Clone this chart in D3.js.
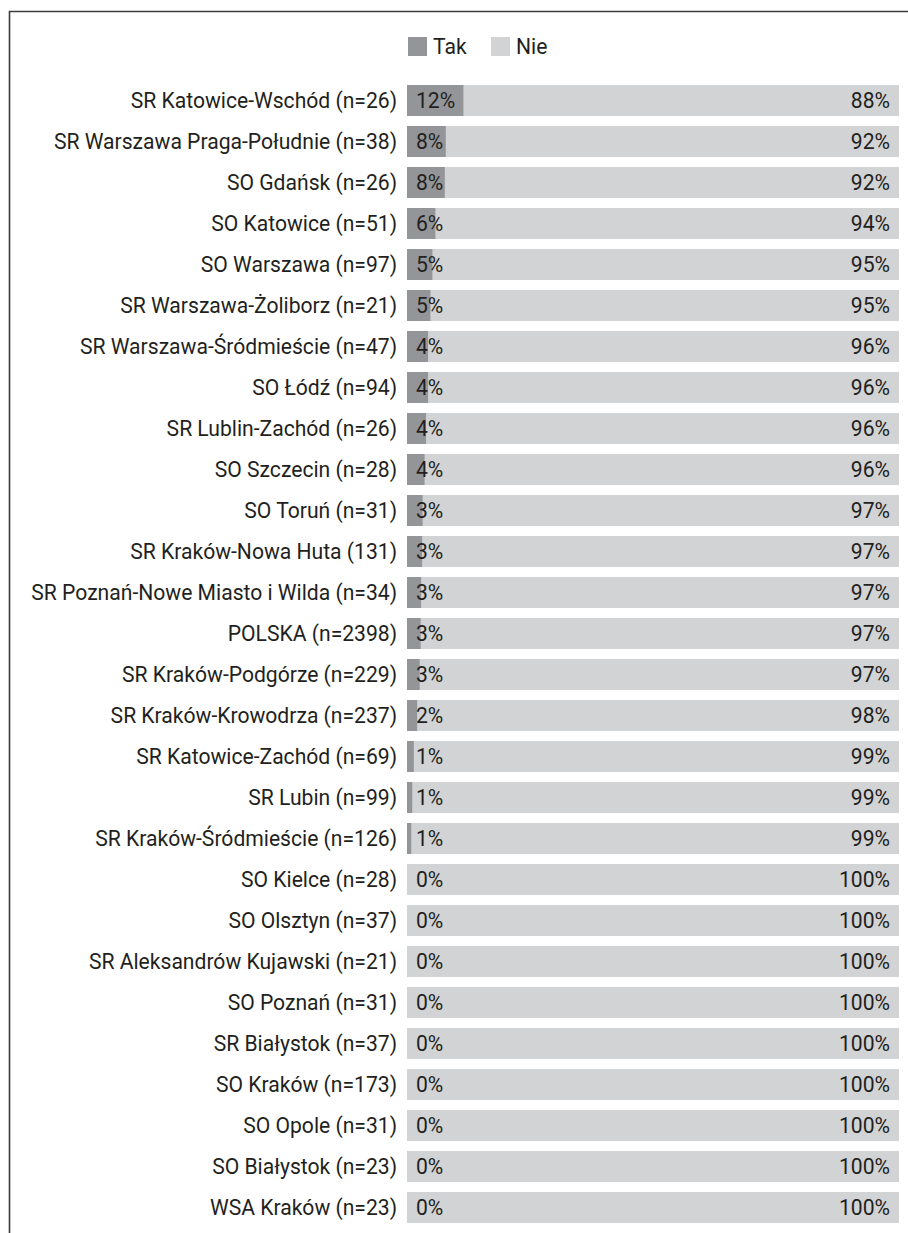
<!DOCTYPE html>
<html lang="pl">
  <head>
    <meta charset="UTF-8" />
    <title>Tak / Nie</title>
    <script src="https://d3js.org/d3.v7.min.js"></script>
    <style>
      body {
        margin: 0;
        background: #fff;
      }
      svg {
        display: block;
        font-family: Roboto, 'Liberation Sans', sans-serif;
      }
    </style>
  </head>
  <body>
    <svg width="908" height="1233"></svg>

    <script>
      const categories = [
        'SR Katowice-Wschód (n=26)',
        'SR Warszawa Praga-Południe (n=38)',
        'SO Gdańsk (n=26)',
        'SO Katowice (n=51)',
        'SO Warszawa (n=97)',
        'SR Warszawa-Żoliborz (n=21)',
        'SR Warszawa-Śródmieście (n=47)',
        'SO Łódź (n=94)',
        'SR Lublin-Zachód (n=26)',
        'SO Szczecin (n=28)',
        'SO Toruń (n=31)',
        'SR Kraków-Nowa Huta (131)',
        'SR Poznań-Nowe Miasto i Wilda (n=34)',
        'POLSKA (n=2398)',
        'SR Kraków-Podgórze (n=229)',
        'SR Kraków-Krowodrza (n=237)',
        'SR Katowice-Zachód (n=69)',
        'SR Lubin (n=99)',
        'SR Kraków-Śródmieście (n=126)',
        'SO Kielce (n=28)',
        'SO Olsztyn (n=37)',
        'SR Aleksandrów Kujawski (n=21)',
        'SO Poznań (n=31)',
        'SR Białystok (n=37)',
        'SO Kraków (n=173)',
        'SO Opole (n=31)',
        'SO Białystok (n=23)',
        'WSA Kraków (n=23)',
      ];

      // share answering "Tak" (%)
      const tak = [
        11.5, 7.9, 7.7, 5.8, 5.2, 4.8, 4.3, 4.3, 3.9, 3.6, 3.2, 3.1, 2.9, 2.8,
        2.6, 2.1, 1.4, 1.1, 0.9, 0, 0, 0, 0, 0, 0, 0, 0, 0,
      ];
      const nie = tak.map((v) => 100 - v);

      const takLabels = tak.map((v) => Math.round(v) + '%');
      const nieLabels = tak.map((v) => 100 - Math.round(v) + '%');

      const seriesNames = ['Tak', 'Nie'];
      const colors = ['#939598', '#d1d3d4'];
      const textColor = '#231f20';

      const fontSize = 22;
      const squeeze = 0.96; // slight horizontal scale to match the narrow face

      const svg = d3.select('svg');

      // frame (top and left edges visible)
      svg
        .append('path')
        .attr('d', 'M9.5,1233V11.5H908')
        .attr('fill', 'none')
        .attr('stroke', '#3c3c3c')
        .attr('stroke-width', 1.6);

      const x = d3.scaleLinear().domain([0, 100]).range([407, 899]);

      const y = d3
        .scaleBand()
        .domain(categories)
        .range([80, 80 + categories.length * 41])
        .paddingInner(10 / 41)
        .paddingOuter(5 / 41);

      const rows = categories.map((c, i) => ({
        name: c,
        tak: tak[i],
        nie: nie[i],
        takLabel: takLabels[i],
        nieLabel: nieLabels[i],
      }));

      const cy = (d) => y(d.name) + y.bandwidth() / 2;

      // helper: squeezed text placed at (tx, ty)
      function label(sel, tx, ty, anchor, txt) {
        sel
          .append('g')
          .attr('transform', (d) => `translate(${tx(d)},${ty(d)}) scale(${squeeze},1)`)
          .append('text')
          .attr('dy', '0.36em')
          .attr('text-anchor', anchor)
          .attr('font-size', fontSize)
          .attr('fill', textColor)
          .text(txt);
      }

      // Nie bars
      svg
        .append('g')
        .selectAll('rect')
        .data(rows)
        .join('rect')
        .attr('x', (d) => x(d.tak))
        .attr('y', (d) => y(d.name))
        .attr('width', (d) => x(d.tak + d.nie) - x(d.tak))
        .attr('height', y.bandwidth())
        .attr('fill', colors[1]);

      // Tak bars
      svg
        .append('g')
        .selectAll('rect')
        .data(rows)
        .join('rect')
        .attr('x', x(0))
        .attr('y', (d) => y(d.name))
        .attr('width', (d) => x(d.tak) - x(0))
        .attr('height', y.bandwidth())
        .attr('fill', colors[0]);

      const rowG = svg.append('g').selectAll('g').data(rows).join('g');

      // category labels
      label(rowG, () => 397, cy, 'end', (d) => d.name);
      // value labels
      label(rowG, () => x(0) + 9, cy, 'start', (d) => d.takLabel);
      label(rowG, () => x(100) - 9, cy, 'end', (d) => d.nieLabel);

      // legend
      const legend = svg
        .append('g')
        .selectAll('g')
        .data(seriesNames)
        .join('g')
        .attr('transform', (d, i) => `translate(${408 + i * 83},37)`);
      legend
        .append('rect')
        .attr('width', 19)
        .attr('height', 19)
        .attr('fill', (d, i) => colors[i]);
      label(legend, () => 25, () => 9.5, 'start', (d) => d);
    </script>
  </body>
</html>
